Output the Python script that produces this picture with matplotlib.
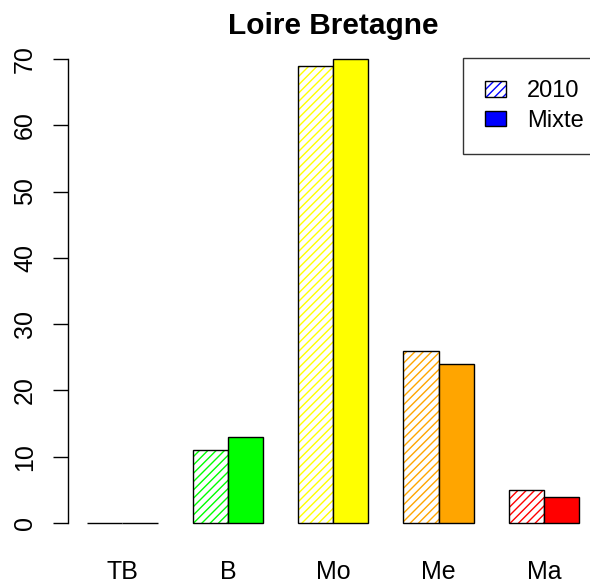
import matplotlib

matplotlib.use("Agg")

import matplotlib.pyplot as plt
from matplotlib.patches import Patch

plt.rcParams["font.family"] = ["Liberation Sans", "DejaVu Sans"]
plt.rcParams["hatch.linewidth"] = 1.0

# data (R barplot, beside=TRUE)
categories = ["TB", "B", "Mo", "Me", "Ma"]
values_2010 = [0, 11, 69, 26, 5]
values_mixte = [0, 13, 70, 24, 4]
colors = ["#006400", "#00FF00", "#FFFF00", "#FFA500", "#FF0000"]
series_labels = ["2010", "Mixte"]
yticks = [0, 10, 20, 30, 40, 50, 60, 70]

fig = plt.figure(figsize=(5.9, 5.83), dpi=100)
ax = fig.add_axes([67.7 / 590, 1 - 541.6 / 583, 531 / 590, 501.2 / 583])

# R layout: each group is 2 bars of width 1, 1 unit gap between groups
left_2010 = [1 + 3 * i for i in range(len(categories))]
left_mixte = [x + 1 for x in left_2010]
centers = [x + 1 for x in left_2010]

# hatched 2010 bars: coloured hatch on white, then black outline on top
ax.bar(left_2010, values_2010, width=1, align="edge", color="white",
       edgecolor=colors, hatch="////", linewidth=0)
ax.bar(left_2010, values_2010, width=1, align="edge", fill=False,
       edgecolor="black", linewidth=1)
ax.bar(left_mixte, values_mixte, width=1, align="edge", color=colors,
       edgecolor="black", linewidth=1)

ax.set_xlim(0.44, 15.56)
ax.set_ylim(-2.8, 72.8)
ax.set_xticks(centers)
ax.set_xticklabels(categories, fontsize=18)
ax.tick_params(axis="x", length=0, pad=13)
ax.set_yticks(yticks)
ax.set_yticklabels([str(t) for t in yticks], fontsize=18, rotation=90, va="center")
ax.tick_params(axis="y", length=11, width=1, pad=11)

for side in ("top", "right", "bottom"):
    ax.spines[side].set_visible(False)
ax.spines["left"].set_bounds(0, 70)
ax.spines["left"].set_linewidth(1)

ax.set_title("Loire Bretagne", fontsize=21.5, fontweight="bold", pad=2.7)

handles = [
    (Patch(facecolor="white", edgecolor="blue", hatch="////", linewidth=0),
     Patch(fill=False, edgecolor="black", linewidth=1)),
    Patch(facecolor="blue", edgecolor="black", linewidth=1),
]
leg = fig.legend(handles, series_labels, loc="upper left",
                 bbox_to_anchor=(463 / 590, 1 - 58 / 583),
                 fontsize=17, frameon=True, fancybox=False,
                 handlelength=0.85, handleheight=0.65, handletextpad=0.9,
                 borderpad=0.95, borderaxespad=0, labelspacing=0.31)
leg.get_frame().set_edgecolor("black")
leg.get_frame().set_linewidth(1)

fig.savefig("out.png", dpi=100)
